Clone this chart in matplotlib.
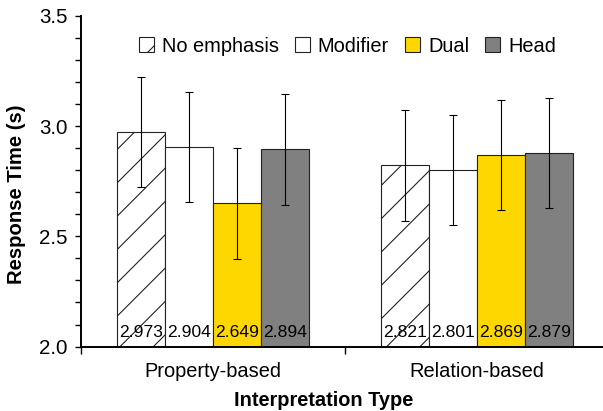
import matplotlib
matplotlib.use('Agg')
import matplotlib.pyplot as plt
from matplotlib.ticker import MultipleLocator, FixedLocator, NullFormatter

groups = ['Property-based', 'Relation-based']
conditions = ['No emphasis', 'Modifier', 'Dual', 'Head']
means = {
    'No emphasis': [2.973, 2.821],
    'Modifier': [2.904, 2.801],
    'Dual': [2.649, 2.869],
    'Head': [2.894, 2.879],
}
errors = {
    'No emphasis': [0.25, 0.25],
    'Modifier': [0.25, 0.25],
    'Dual': [0.25, 0.25],
    'Head': [0.25, 0.25],
}

colors = {'No emphasis': 'white', 'Modifier': 'white', 'Dual': '#FFD700', 'Head': '#808080'}
hatches = {'No emphasis': '//', 'Modifier': None, 'Dual': None, 'Head': None}

plt.rcParams['font.family'] = ['Liberation Sans', 'DejaVu Sans']
plt.rcParams['hatch.linewidth'] = 0.4
plt.rcParams['hatch.color'] = 'black'

# drawn at dpi 200 on a half-size canvas so the hatch spacing comes out wide
fig = plt.figure(figsize=(6.03 / 2, 4.11 / 2), dpi=200)
ax = fig.add_axes([81 / 603, 64.4 / 411, 528 / 603, 330.9 / 411])

width = 0.182
for i, cond in enumerate(conditions):
    xs = [g + 0.5 + (i - 1.5) * width for g in range(len(groups))]
    ax.bar(xs, [m - 2.0 for m in means[cond]], width, bottom=2.0,
           color=colors[cond], edgecolor='#222222', linewidth=0.4,
           hatch=hatches[cond], label=cond)
    ax.errorbar(xs, means[cond], yerr=errors[cond], fmt='none', ecolor='black',
                elinewidth=0.4, capsize=1.6, capthick=0.4)
    for x, m in zip(xs, means[cond]):
        ax.text(x, 2.0435, '%.3f' % m, ha='center', va='baseline', fontsize=6.3)

ax.set_xlim(0, 2)
ax.set_ylim(2.0, 3.5)
ax.yaxis.set_major_locator(MultipleLocator(0.5))
ax.yaxis.set_minor_locator(MultipleLocator(0.1))
ax.yaxis.set_major_formatter(plt.FormatStrFormatter('%.1f'))

ax.xaxis.set_major_locator(FixedLocator([0, 1, 2]))
ax.xaxis.set_major_formatter(NullFormatter())
ax.xaxis.set_minor_locator(FixedLocator([0.5, 1.5]))
ax.set_xticklabels(groups, minor=True)

ax.tick_params(axis='y', which='both', direction='out', length=2.2, width=0.5,
               labelsize=7.4, pad=2.5)
ax.tick_params(axis='x', which='major', direction='out', length=2.4, width=0.5)
ax.tick_params(axis='x', which='minor', length=0, labelsize=7.2, pad=5.5)

for side in ['top', 'right']:
    ax.spines[side].set_visible(False)
for side in ['left', 'bottom']:
    ax.spines[side].set_linewidth(0.7)

ax.set_ylabel('Response Time (s)', fontsize=7.3, fontweight='bold')
ax.yaxis.set_label_coords(-0.104, 0.46)
ax.set_xlabel('Interpretation Type', fontsize=7.2, fontweight='bold')
ax.xaxis.set_label_coords(0.46, -0.134)

ax.legend(loc='center', bbox_to_anchor=(0.5047, 0.908), ncol=4, frameon=False,
          fontsize=7.2, handlelength=0.75, handleheight=0.75,
          handletextpad=0.4, columnspacing=0.8)

fig.savefig('out.png', dpi=200)
